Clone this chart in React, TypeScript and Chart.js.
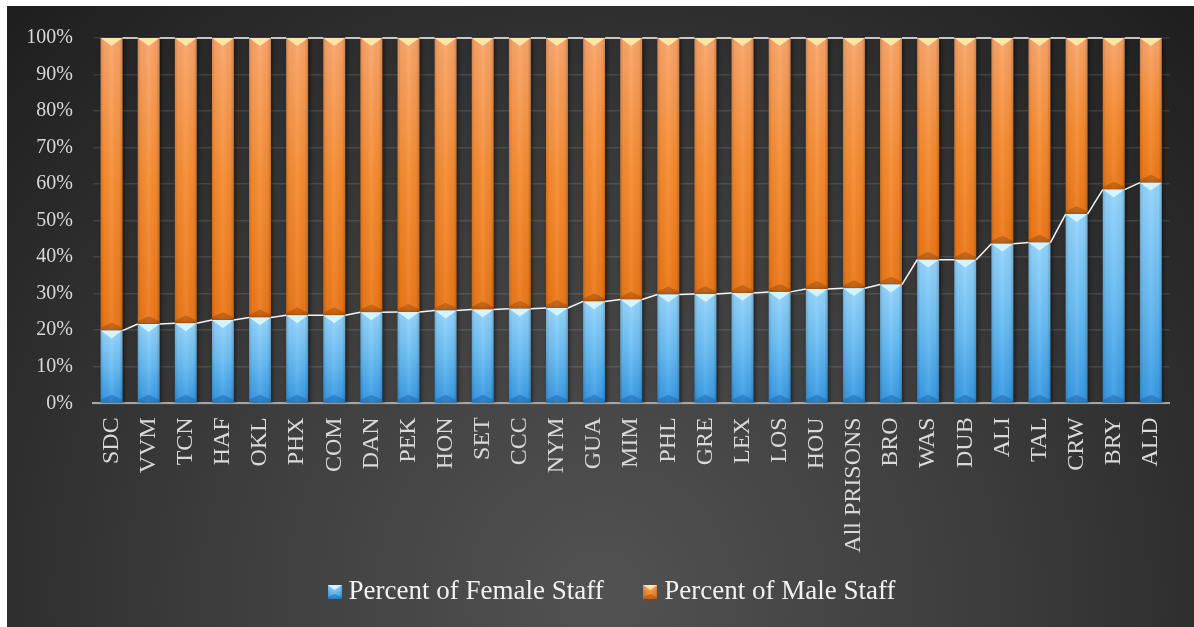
import React, { useEffect, useRef } from "react";
import { Chart, registerables } from "chart.js";

Chart.register(...registerables);

// ---------------- DATA ----------------
const categories = [
  "SDC", "VVM", "TCN", "HAF", "OKL", "PHX", "COM", "DAN", "PEK", "HON",
  "SET", "CCC", "NYM", "GUA", "MIM", "PHL", "GRE", "LEX", "LOS", "HOU",
  "All PRISONS", "BRO", "WAS", "DUB", "ALI", "TAL", "CRW", "BRY", "ALD",
];
const femaleValues = [
  19.9, 21.7, 21.9, 22.8, 23.5, 24.1, 24.1, 24.9, 25.0, 25.4,
  25.7, 25.9, 26.1, 27.9, 28.4, 29.8, 29.9, 30.2, 30.5, 31.3,
  31.5, 32.5, 39.3, 39.3, 43.7, 44.0, 51.8, 58.5, 60.4,
];
const maleValues = [
  80.1, 78.3, 78.1, 77.2, 76.5, 75.9, 75.9, 75.1, 75.0, 74.6,
  74.3, 74.1, 73.9, 72.1, 71.6, 70.2, 70.1, 69.8, 69.5, 68.7,
  68.5, 67.5, 60.7, 60.7, 56.3, 56.0, 48.2, 41.5, 39.6,
];
const seriesNames = ["Percent of Female Staff", "Percent of Male Staff"];
const yTickValues = [0, 10, 20, 30, 40, 50, 60, 70, 80, 90, 100];

// ---------------- STYLE ----------------
const FONT = "'Liberation Serif', 'Times New Roman', serif";
const LEGEND_FONT = 27;
const LEGEND_PAD = 46;
const LEGEND_H = 63;
const barStyles = [
  { top: "#95d5fd", mid: "#68bcf3", bottom: "#3799e4", cap: "rgba(215,247,255,0.95)", base: "rgba(25,95,165,0.45)" },
  { top: "#faa56a", mid: "#f68b30", bottom: "#ec7818", cap: "rgba(255,233,170,0.95)", base: "rgba(150,70,10,0.45)" },
];

function paintBar(ctx: CanvasRenderingContext2D, left: number, top: number, width: number, height: number, s: any, shadow: boolean) {
  const right = left + width;
  const bottom = top + height;
  const cx = left + width / 2;
  ctx.save();
  if (shadow) {
    ctx.shadowColor = "rgba(0,0,0,0.55)";
    ctx.shadowBlur = 4;
    ctx.shadowOffsetX = 1.5;
    ctx.shadowOffsetY = 1;
  }
  const g = ctx.createLinearGradient(0, top, 0, bottom);
  g.addColorStop(0, s.top);
  g.addColorStop(0.5, s.mid);
  g.addColorStop(1, s.bottom);
  ctx.fillStyle = g;
  ctx.fillRect(left, top, width, height);
  ctx.restore();
  ctx.save();
  const hg = ctx.createLinearGradient(left, 0, right, 0);
  hg.addColorStop(0, "rgba(0,0,0,0.16)");
  hg.addColorStop(0.15, "rgba(0,0,0,0.03)");
  hg.addColorStop(0.5, "rgba(255,255,255,0.07)");
  hg.addColorStop(0.85, "rgba(0,0,0,0.03)");
  hg.addColorStop(1, "rgba(0,0,0,0.2)");
  ctx.fillStyle = hg;
  ctx.fillRect(left, top, width, height);
  const th = Math.min(width * 0.36, height / 2);
  // bottom bevel
  ctx.beginPath();
  ctx.moveTo(left, bottom);
  ctx.lineTo(right, bottom);
  ctx.lineTo(right, bottom - th * 0.35);
  ctx.lineTo(cx, bottom - th);
  ctx.lineTo(left, bottom - th * 0.35);
  ctx.closePath();
  ctx.fillStyle = s.base;
  ctx.fill();
  // top cap
  ctx.beginPath();
  ctx.moveTo(left, top);
  ctx.lineTo(right, top);
  ctx.lineTo(cx, top + th);
  ctx.closePath();
  ctx.fillStyle = s.cap;
  ctx.fill();
  ctx.restore();
}

const barPainter = {
  id: "barPainter",
  beforeDatasetDraw(chart: any, args: any) {
    const ctx = chart.ctx;
    const s = barStyles[args.index];
    ctx.save();
    ctx.beginPath();
    ctx.rect(chart.chartArea.left, chart.chartArea.top - 2, chart.chartArea.width, chart.chartArea.height + 2);
    ctx.clip();
    args.meta.data.forEach((el: any) => {
      const p = el.getProps(["x", "y", "base", "width"], true);
      const top = Math.min(p.y, p.base);
      const h = Math.abs(p.base - p.y);
      paintBar(ctx, p.x - p.width / 2, top, p.width, h, s, true);
    });
    ctx.restore();
    return false;
  },
  afterDatasetsDraw(chart: any) {
    const ctx = chart.ctx;
    ctx.save();
    ctx.strokeStyle = "rgba(255,255,255,0.95)";
    ctx.lineWidth = 1.5;
    chart.data.datasets.forEach((_: any, di: number) => {
      const els = chart.getDatasetMeta(di).data;
      for (let i = 0; i < els.length - 1; i++) {
        const a = els[i].getProps(["x", "y", "width"], true);
        const b = els[i + 1].getProps(["x", "y", "width"], true);
        ctx.beginPath();
        ctx.moveTo(a.x + a.width / 2, a.y);
        ctx.lineTo(b.x - b.width / 2, b.y);
        ctx.stroke();
      }
    });
    ctx.restore();
  },
  afterLayout(chart: any) {
    const lg = chart.legend;
    if (!lg || !lg.lineWidths) return;
    const targetCenterY = 586;
    lg.top = targetCenterY - LEGEND_PAD - LEGEND_FONT / 2;
    lg.bottom = chart.height;
    lg.height = lg.bottom - lg.top;
    const curX = (lg.left + LEGEND_PAD + lg.right - lg.lineWidths[0]) / 2;
    const dx = 327.1 - curX;
    lg.left += dx;
    lg.right += dx;
  },
};

function makeIcon(s: any) {
  const c = document.createElement("canvas");
  c.width = 14;
  c.height = 14;
  const ctx = c.getContext("2d") as CanvasRenderingContext2D;
  paintBar(ctx, 0, 0, 14, 14, s, false);
  return c;
}

export default function App() {
  const ref = useRef<HTMLCanvasElement | null>(null);
  useEffect(() => {
    if (!ref.current) return;
    const icons = barStyles.map(makeIcon);
    const chart = new Chart(ref.current, {
      type: "bar",
      data: {
        labels: categories,
        datasets: [
          { label: seriesNames[0], data: femaleValues, backgroundColor: "#5ab4f0" },
          { label: seriesNames[1], data: maleValues, backgroundColor: "#f4903a" },
        ],
      },
      options: {
        animation: false,
        responsive: false,
        maintainAspectRatio: false,
        devicePixelRatio: 1,
        datasets: { bar: { barPercentage: 0.59, categoryPercentage: 1 } },
        layout: { padding: { left: 0, right: 21, top: 29, bottom: 0 } },
        font: { family: FONT },
        plugins: {
          tooltip: { enabled: false },
          legend: {
            position: "bottom",
            maxHeight: LEGEND_H,
            labels: {
              color: "#f2f2f2",
              font: { family: FONT, size: LEGEND_FONT },
              padding: LEGEND_PAD,
              boxWidth: 1,
              boxHeight: 14,
              usePointStyle: true,
              generateLabels: () =>
                seriesNames.map((n, i) => ({
                  text: n,
                  fillStyle: barStyles[i].mid,
                  strokeStyle: "transparent",
                  lineWidth: 0,
                  pointStyle: icons[i],
                  datasetIndex: i,
                  fontColor: "#f2f2f2",
                })),
            },
          },
        },
        scales: {
          x: {
            stacked: true,
            grid: { display: false, drawTicks: false },
            border: { display: true, color: "#a6a6a6", width: 2 },
            ticks: {
              color: "#d9d9d9",
              font: { family: FONT, size: 24 },
              minRotation: 90,
              maxRotation: 90,
              autoSkip: false,
              padding: 14,
            },
            afterFit: (scale: any) => {
              scale.height = 621 - 397.3 - LEGEND_H;
            },
          },
          y: {
            stacked: true,
            min: 0,
            max: 100,
            grid: { color: "rgba(255,255,255,0.11)", lineWidth: 1.5, drawTicks: false },
            border: { display: false },
            ticks: {
              color: "#d9d9d9",
              font: { family: FONT, size: 20 },
              padding: 20,
              callback: (v: any) => v + "%",
            },
            afterBuildTicks: (scale: any) => {
              scale.ticks = yTickValues.map((v) => ({ value: v }));
            },
            afterFit: (scale: any) => {
              scale.width = 86;
            },
          },
        },
      },
      plugins: [barPainter],
    });
    return () => chart.destroy();
  }, []);

  return (
    <div
      style={{
        position: "absolute",
        left: 7,
        top: 6,
        width: 1187,
        height: 621,
        background:
          "radial-gradient(ellipse farthest-corner at 50% 95%, #525252 0%, #3d3d3d 45%, #1e1e1e 100%)",
      }}
    >
      <canvas ref={ref} width={1187} height={621} style={{ display: "block" }} />
    </div>
  );
}
